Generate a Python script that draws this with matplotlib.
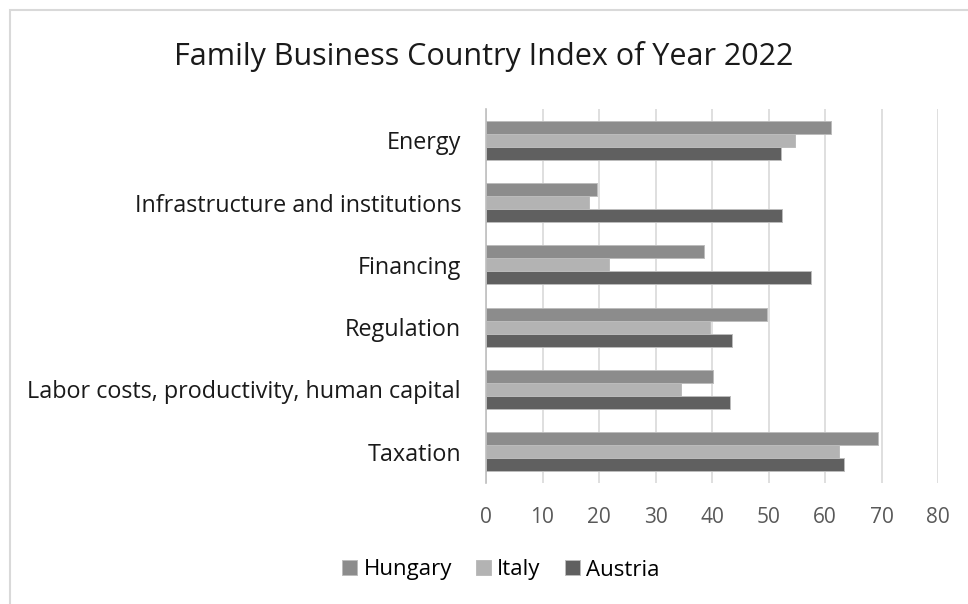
import matplotlib
matplotlib.use("Agg")
import matplotlib.pyplot as plt
from matplotlib.patches import Rectangle
import numpy as np

plt.rcParams['font.family'] = ['Open Sans', 'DejaVu Sans']

categories = ['Energy', 'Infrastructure and institutions', 'Financing',
              'Regulation', 'Labor costs, productivity, human capital', 'Taxation']
hungary = [61.0, 19.7, 38.6, 49.7, 40.1, 69.4]
italy = [54.7, 18.2, 21.8, 39.6, 34.6, 62.4]
austria = [52.3, 52.4, 57.5, 43.6, 43.2, 63.4]
xticks = [0, 10, 20, 30, 40, 50, 60, 70, 80]

fig = plt.figure(figsize=(9.68, 6.04), dpi=100)
ax = fig.add_axes([486 / 968, 1 - 483 / 604, 452 / 968, 374 / 604])

# light frame like the source chart
fig.patches.append(Rectangle((10 / 968, -0.1), 1.2, 1 - 10 / 604 + 0.1,
                             transform=fig.transFigure, fill=False,
                             edgecolor='#d9d9d9', linewidth=1.5))

y = np.arange(len(categories))
h = 0.208
edge = dict(edgecolor='#bcbcbc', linewidth=0.7)
ax.barh(y - h, hungary, height=h, color='#8c8c8c', label='Hungary', zorder=3, **edge)
ax.barh(y, italy, height=h, color='#b3b3b3', label='Italy', zorder=3, **edge)
ax.barh(y + h, austria, height=h, color='#606060', label='Austria', zorder=3, **edge)

ax.set_ylim(len(categories) - 0.5, -0.5)
ax.set_xlim(0, 80)
ax.set_xticks(xticks)
ax.set_yticks(y)
ax.set_yticklabels(categories, fontsize=16.8, color='#1a1a1a')
ax.tick_params(axis='x', length=0, pad=17, labelsize=15, labelcolor='#595959')
ax.tick_params(axis='y', length=0, pad=18)
ax.grid(axis='x', color='#d9d9d9', linewidth=1.2, zorder=0)
for s in ['top', 'right', 'bottom']:
    ax.spines[s].set_visible(False)
ax.spines['left'].set_color('#bfbfbf')
ax.spines['left'].set_linewidth(1.2)

fig.text(0.5, 1 - 56 / 604, 'Family Business Country Index of Year 2022',
         ha='center', va='center', fontsize=22, color='#1a1a1a')

fig.legend(loc='center', bbox_to_anchor=(501 / 968, 1 - 570 / 604), ncol=3,
           frameon=False, fontsize=16, handlelength=0.65, handleheight=0.65,
           handletextpad=0.3, columnspacing=1.1)

plt.savefig('out.png', dpi=100)
